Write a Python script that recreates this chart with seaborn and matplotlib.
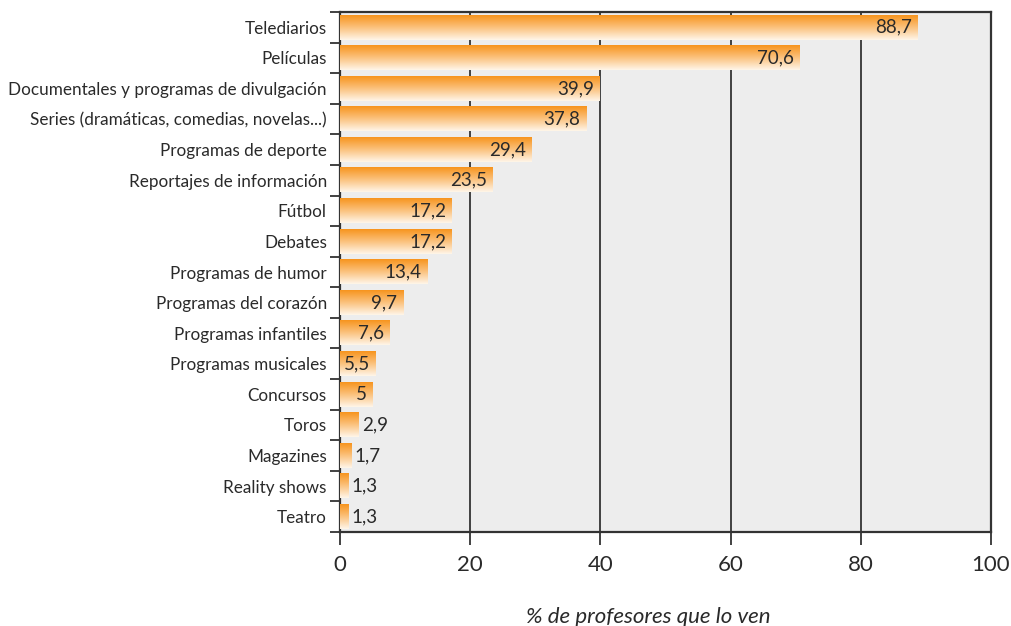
import numpy as np
import pandas as pd
import matplotlib
matplotlib.use("Agg")
import matplotlib.pyplot as plt
import seaborn as sns
from matplotlib.colors import LinearSegmentedColormap

# Data
categorias = [
    "Telediarios", "Películas", "Documentales y programas de divulgación",
    "Series (dramáticas, comedias, novelas...)", "Programas de deporte",
    "Reportajes de información", "Fútbol", "Debates", "Programas de humor",
    "Programas del corazón", "Programas infantiles", "Programas musicales",
    "Concursos", "Toros", "Magazines", "Reality shows", "Teatro",
]
valores = [88.7, 70.6, 39.9, 37.8, 29.4, 23.5, 17.2, 17.2, 13.4, 9.7,
           7.6, 5.5, 5, 2.9, 1.7, 1.3, 1.3]
x_ticks = [0, 20, 40, 60, 80, 100]
x_label = "% de profesores que lo ven"

df = pd.DataFrame({"categoria": categorias, "valor": valores})

sns.set_theme(style="white")
plt.rcParams["font.family"] = ["Lato", "DejaVu Sans"]
texto = "#2a2a2a"

fig = plt.figure(figsize=(10.11, 6.26), dpi=100)
ax = fig.add_axes([340 / 1011, 1 - 532 / 626, 651 / 1011, 520 / 626])
ax.set_facecolor("#EDEDED")

sns.barplot(data=df, x="valor", y="categoria", orient="h", ax=ax,
            color="#F7941D", width=0.8, zorder=2)

# gradient fill on each bar (orange on top -> almost white at bottom)
cmap = LinearSegmentedColormap.from_list("naranja", ["#F7941D", "#FBC27E", "#FFF6EA"])
grad = np.linspace(0, 1, 256).reshape(-1, 1)
for p in ax.patches:
    x0, y0 = p.get_x(), p.get_y()
    w, h = p.get_width(), p.get_height()
    p.set_visible(False)
    ax.imshow(grad, cmap=cmap, aspect="auto", origin="upper",
              extent=[x0, x0 + w, y0 + h, y0], zorder=3)

ax.set_xlim(0, 100)
ax.set_ylim(len(categorias) - 0.5, -0.5)

# value labels
for i, v in enumerate(valores):
    s = f"{v:g}".replace(".", ",")
    if v >= 5:
        ax.text(v - 0.9, i, s, ha="right", va="center", fontsize=13.5,
                color=texto, zorder=4)
    else:
        ax.text(v + 0.5, i, s, ha="left", va="center", fontsize=13.5,
                color=texto, zorder=4)

# grid and frame
ax.set_xticks(x_ticks)
ax.set_xticklabels([str(t) for t in x_ticks], fontsize=16, color=texto)
for t in x_ticks[1:-1]:
    ax.axvline(t, color="#333333", lw=1.3, zorder=1)
for s in ax.spines.values():
    s.set_visible(True)
    s.set_color("#333333")
    s.set_linewidth(1.6)

ax.set_yticks(range(len(categorias)))
ax.set_yticklabels(categorias, fontsize=12.3, color=texto)
ax.set_yticks(np.arange(-0.5, len(categorias)), minor=True)
ax.tick_params(axis="y", which="major", length=0, pad=9.5)
ax.tick_params(axis="y", which="minor", length=7.5, width=1.3, color="#333333",
               direction="out", left=True)
ax.tick_params(axis="x", length=9.5, width=1.3, color="#333333",
               direction="out", bottom=True, pad=7)

ax.set_ylabel("")
ax.set_xlabel(x_label, fontsize=16, style="italic", color=texto)
ax.xaxis.set_label_coords(0.473, -0.145)

fig.savefig("out.png", dpi=100)
